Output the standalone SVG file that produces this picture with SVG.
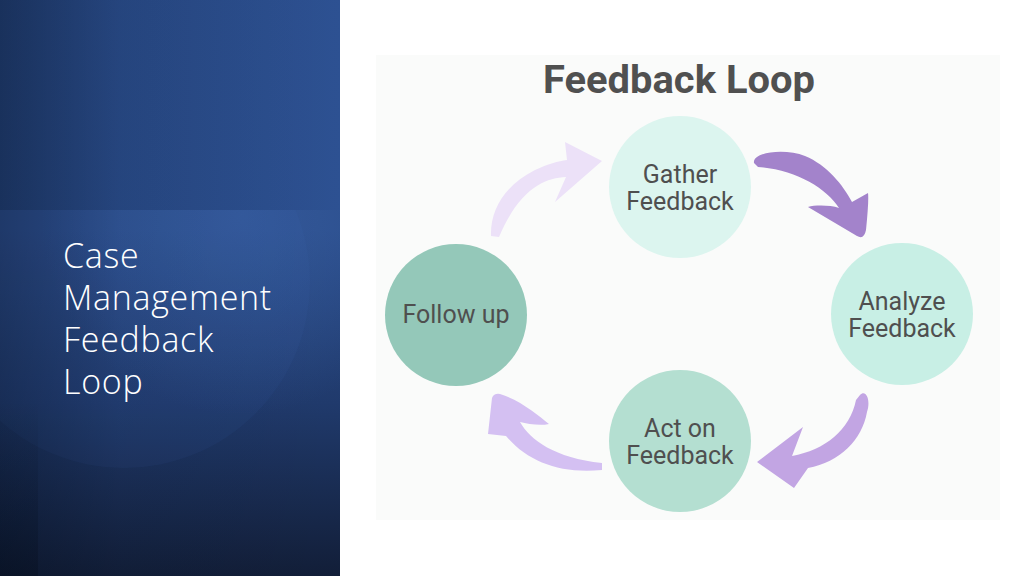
<svg xmlns="http://www.w3.org/2000/svg" width="1024" height="576" viewBox="0 0 1024 576">
<defs>
<linearGradient id="bgv" x1="0" y1="0" x2="0" y2="1">
<stop offset="0" stop-color="#2b4c89"/>
<stop offset="0.4" stop-color="#2b4c8a"/>
<stop offset="0.7" stop-color="#203a6c"/>
<stop offset="1" stop-color="#121e38"/>
</linearGradient>
<linearGradient id="bgh" x1="0" y1="0" x2="1" y2="0">
<stop offset="0" stop-color="#000814" stop-opacity="0.3"/>
<stop offset="0.35" stop-color="#000814" stop-opacity="0.05"/>
<stop offset="1" stop-color="#000814" stop-opacity="0"/>
</linearGradient>
<linearGradient id="topband" x1="0" y1="0" x2="1" y2="0">
<stop offset="0" stop-color="#24437b"/>
<stop offset="1" stop-color="#2d5192"/>
</linearGradient>
<linearGradient id="band" x1="0" y1="0" x2="0" y2="1">
<stop offset="0" stop-color="#000814" stop-opacity="0"/>
<stop offset="1" stop-color="#000814" stop-opacity="0.25"/>
</linearGradient>
<radialGradient id="glow" cx="240" cy="215" r="200" gradientUnits="userSpaceOnUse">
<stop offset="0" stop-color="#3a64a8" stop-opacity="0.55"/>
<stop offset="1" stop-color="#3a64a8" stop-opacity="0"/>
</radialGradient>
<clipPath id="below"><rect x="0" y="210" width="340" height="366"/></clipPath>
</defs>
<style>
.side{font-family:"Open Sans","Liberation Sans",sans-serif;font-weight:300;font-size:34px;letter-spacing:0.7px;fill:#ffffff}
.title{font-family:Roboto,"Liberation Sans",sans-serif;font-weight:700;font-size:38px;fill:#505050}
.lbl{font-family:Roboto,"Liberation Sans",sans-serif;font-size:25px;fill:#4f4f4f;text-anchor:middle}
</style>
<rect x="0" y="0" width="1024" height="576" fill="#ffffff"/>
<!-- left panel -->
<rect x="0" y="0" width="340" height="576" fill="url(#bgv)"/>
<g clip-path="url(#below)">
<rect x="0" y="210" width="340" height="366" fill="url(#glow)"/>
<circle cx="124" cy="282" r="186" fill="#4a74c0" opacity="0.07"/>
</g>
<rect x="0" y="0" width="340" height="210" fill="url(#topband)"/>
<rect x="0" y="0" width="340" height="576" fill="url(#bgh)"/>
<rect x="0" y="400" width="38" height="176" fill="url(#band)"/>
<text class="side" x="63" y="268">Case</text>
<text class="side" x="63" y="310">Management</text>
<text class="side" x="63" y="352">Feedback</text>
<text class="side" x="63" y="394">Loop</text>
<!-- diagram panel -->
<rect x="376" y="55" width="624" height="465" fill="#fafbfa"/>
<text class="title" x="543" y="93" textLength="272" lengthAdjust="spacingAndGlyphs">Feedback Loop</text>
<g id="connectors">
<path id="a1" fill="#a383cb" d="M754,163 C752,152 785,148 805,156 C827,165 843,185 852,202 L868,193 Q869,200 866,230 Q864,240 857,236 L808,207 C815,205 830,205 839,208 C826,188 796,170 758,167 Z"/>
<path id="a2" fill="#c2a5e3" d="M860,395 C866,389 871,400 867,412 C862,440 840,462 808,468 L794,488 L757,462 L803,427 L792,456 C825,450 850,430 856,400 Z"/>
<path id="a3" fill="#d4c0f2" d="M602,470 C560,474 528,462 506,436 L488,434 L492,398 Q494,393 500,394 C520,400 538,415 549,424 C540,426 528,424 520,422 C530,440 555,458 602,463 Z"/>
<path id="a4" fill="#ece1f8" d="M491,236 C490,210 505,185 535,170 C548,164 558,161 567,160 L565,142 L602,161 L555,202 L566,177 C545,178 520,188 499,237 Z"/>
</g>
<g id="gather">
<circle cx="680" cy="187" r="71" fill="#dcf5ef"/>
<text class="lbl" x="680" y="183">Gather</text>
<text class="lbl" x="680" y="210">Feedback</text>
</g>
<g id="analyze">
<circle cx="902" cy="314" r="71" fill="#c8efe5"/>
<text class="lbl" x="902" y="310">Analyze</text>
<text class="lbl" x="902" y="337">Feedback</text>
</g>
<g id="act">
<circle cx="680" cy="441" r="71" fill="#b4dfd1"/>
<text class="lbl" x="680" y="437">Act on</text>
<text class="lbl" x="680" y="464">Feedback</text>
</g>
<g id="follow">
<circle cx="456" cy="315" r="71" fill="#94c8b9"/>
<text class="lbl" x="456" y="323">Follow up</text>
</g>
</svg>
